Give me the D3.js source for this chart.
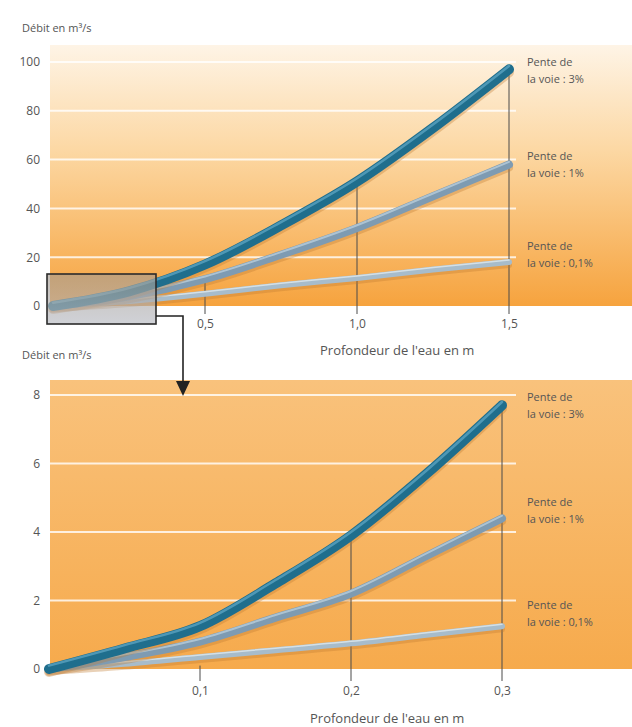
<!DOCTYPE html>
<html><head><meta charset="utf-8">
<script src="https://cdn.jsdelivr.net/npm/d3@7"></script>
<style>body{margin:0;background:#fff}svg{display:block}text{font-family:"Open Sans","Noto Sans",sans-serif;fill:#555}</style>
</head><body>
<script>
// ---- data ----
const topDepth = [0, 0.25, 0.5, 0.75, 1.0, 1.25, 1.5];
const top3 = [0, 6, 17, 33, 51, 73, 97];
const top1 = [0, 4, 11, 21, 32, 45, 58];
const top01 = [0, 2, 5, 8.5, 11.5, 15, 18];
const topYTicks = [0, 20, 40, 60, 80, 100];
const topXTicks = [0.5, 1.0, 1.5];

const botDepth = [0, 0.05, 0.1, 0.15, 0.2, 0.25, 0.3];
const bot3 = [0, 0.6, 1.25, 2.5, 3.9, 5.7, 7.7];
const bot1 = [0, 0.35, 0.8, 1.5, 2.2, 3.3, 4.4];
const bot01 = [0, 0.15, 0.35, 0.55, 0.75, 1.0, 1.25];
const botYTicks = [0, 2, 4, 6, 8];
const botXTicks = [0.1, 0.2, 0.3];

const seriesLabels = [["Pente de", "la voie : 3%"], ["Pente de", "la voie : 1%"], ["Pente de", "la voie : 0,1%"]];
const yTitle = "Débit en m³/s";
const xTitle = "Profondeur de l'eau en m";

const W = 632, H = 727;
const svg = d3.select("body").append("svg").attr("width", W).attr("height", H);
const defs = svg.append("defs");
const g1 = defs.append("linearGradient").attr("id","bgTop").attr("x1",0).attr("x2",0).attr("y1",0).attr("y2",1);
g1.append("stop").attr("offset",0).attr("stop-color","#fef4e6");
g1.append("stop").attr("offset",0.4).attr("stop-color","#fcd8a4");
g1.append("stop").attr("offset",1).attr("stop-color","#f6a33e");
const g2 = defs.append("linearGradient").attr("id","bgBot").attr("x1",0).attr("x2",0).attr("y1",0).attr("y2",1);
g2.append("stop").attr("offset",0).attr("stop-color","#f9c27c");
g2.append("stop").attr("offset",1).attr("stop-color","#f6aa4c");
const g3 = defs.append("linearGradient").attr("id","boxFill").attr("x1",0).attr("x2",0).attr("y1",0).attr("y2",1);
g3.append("stop").attr("offset",0).attr("stop-color","#a59a8e").attr("stop-opacity",0.85);
g3.append("stop").attr("offset",1).attr("stop-color","#b9bcc4").attr("stop-opacity",0.9);

const styles = [
  {c:"#1f6e8d", w:10, hi:"#5aa3c0"},
  {c:"#7e9bb2", w:8, hi:"#b8cddb"},
  {c:"#a7bccb", w:6, hi:"#dfe8ee"}
];

function panel(o){
  const x = d3.scaleLinear().domain(o.xDomain).range(o.xRange);
  const y = d3.scaleLinear().domain(o.yDomain).range(o.yRange);
  const g = svg.append("g");
  g.append("rect").attr("x",50).attr("y",o.bgTop).attr("width",W-50).attr("height",y(0)-o.bgTop).attr("fill",o.bg);
  g.selectAll(".grid").data(o.yTicks.filter(d=>d>0)).join("line")
    .attr("x1",50).attr("x2",516).attr("y1",d=>y(d)).attr("y2",d=>y(d))
    .attr("stroke","#fff").attr("stroke-opacity",0.8).attr("stroke-width",2);
  const ya = d3.axisLeft(y).tickValues(o.yTicks).tickSize(0).tickPadding(0).tickFormat(d3.format("d"));
  const yg = g.append("g").attr("transform","translate(40,0)").call(ya);
  yg.select(".domain").remove();
  yg.selectAll("text").attr("font-size",12).attr("fill","#555").style("font-family","'Open Sans',sans-serif");
  o.drops.forEach(d=>{
    g.append("line").attr("x1",x(d.x)).attr("x2",x(d.x)).attr("y1",y(d.v)).attr("y2",y(0)+o.tickExt)
      .attr("stroke","#4a4a4a").attr("stroke-width",1);
  });
  const xa = d3.axisBottom(x).tickValues(o.xTicks).tickSize(0).tickPadding(0).tickFormat(d=>d3.format(".1f")(d).replace(".",","));
  const xg = g.append("g").attr("transform",`translate(0,${o.xLabelY})`).call(xa);
  xg.select(".domain").remove();
  xg.selectAll("text").attr("font-size",12).attr("fill","#666").style("font-family","'Open Sans',sans-serif");
  const line = d3.line().x((d,i)=>x(o.depth[i])).y(d=>y(d)).curve(d3.curveMonotoneX);
  [2,1,0].forEach(k=>{
    const s = styles[k], vals = o.series[k];
    g.append("path").attr("d",line(vals)).attr("fill","none").attr("stroke","#c07a30").attr("stroke-opacity",0.35)
      .attr("stroke-width",s.w).attr("transform","translate(0,3)").attr("stroke-linecap","round");
    g.append("path").attr("d",line(vals)).attr("fill","none").attr("stroke",s.c)
      .attr("stroke-width",s.w).attr("stroke-linecap","round").attr("stroke-linejoin","round");
    g.append("path").attr("d",line(vals)).attr("fill","none").attr("stroke",s.hi).attr("stroke-opacity",0.8)
      .attr("stroke-width",Math.max(1.5,s.w/4)).attr("transform",`translate(0,${-s.w/3})`).attr("stroke-linecap","round");
  });
  o.labelY.forEach((ly,k)=>{
    const t = g.append("text").attr("x",527).attr("y",ly).attr("font-size",11).attr("fill","#5a5048");
    t.append("tspan").attr("x",527).text(seriesLabels[k][0]);
    t.append("tspan").attr("x",527).attr("dy",17).text(seriesLabels[k][1]);
  });
  g.append("text").attr("x",22).attr("y",o.yTitleY).attr("font-size",11).attr("fill","#555").text(yTitle);
  g.append("text").attr("x",o.xTitleX).attr("y",o.xTitleY).attr("font-size",13).attr("fill","#555").text(xTitle);
  return {x,y,g};
}

panel({
  xDomain:[0,1.5], xRange:[53,509], yDomain:[0,100], yRange:[306,62], bgTop:45, bg:"url(#bgTop)",
  yTicks:topYTicks, xTicks:topXTicks, depth:topDepth, series:[top3,top1,top01],
  drops:[{x:0.5,v:top1[2]},{x:1.0,v:top3[4]},{x:1.5,v:top3[6]}], tickExt:8, xLabelY:319,
  labelY:[66,160,250], yTitleY:32, xTitleX:320, xTitleY:355
});
panel({
  xDomain:[0,0.3], xRange:[49,502], yDomain:[0,8], yRange:[669,395], bgTop:380, bg:"url(#bgBot)",
  yTicks:botYTicks, xTicks:botXTicks, depth:botDepth, series:[bot3,bot1,bot01],
  drops:[{x:0.1,v:0.1},{x:0.2,v:bot3[4]},{x:0.3,v:bot3[6]}], tickExt:12, xLabelY:686,
  labelY:[401,506,609], yTitleY:359, xTitleX:310, xTitleY:723
});

svg.append("rect").attr("x",47).attr("y",274).attr("width",109).attr("height",50)
  .attr("fill","url(#boxFill)").attr("fill-opacity",0.75).attr("stroke","#2b2b2b").attr("stroke-width",1.6);
svg.append("path").attr("d","M156,316 H183 V384").attr("fill","none").attr("stroke","#222").attr("stroke-width",1.6);
svg.append("path").attr("d","M176,381 L190,381 L183,396 Z").attr("fill","#222");
</script>
</body></html>
